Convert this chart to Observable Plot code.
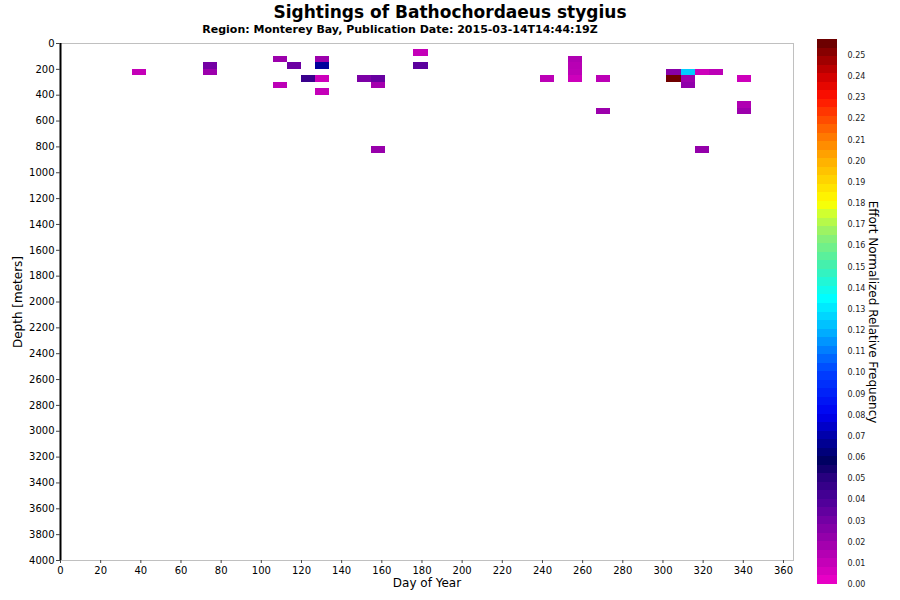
<!DOCTYPE html>
<html>
<head>
<meta charset="utf-8">
<script src="https://cdn.jsdelivr.net/npm/d3@7"></script>
<script src="https://cdn.jsdelivr.net/npm/@observablehq/plot@0.6"></script>
<style>
  body { margin: 0; background: #fff; }
  #wrap { position: relative; width: 900px; height: 600px; font-family: "DejaVu Sans", sans-serif; color: #000; }
  #title { position: absolute; left: 0; top: 2px; width: 900px; text-align: center; font-weight: bold; font-size: 17px; line-height: 20px; }
  #sub { position: absolute; left: 0; top: 23px; width: 800px; text-align: center; font-weight: bold; font-size: 11px; line-height: 13px; }
  #chart { position: absolute; left: 0; top: 36px; }
  #bar { position: absolute; left: 800px; top: 36px; }
</style>
</head>
<body>
<div id="wrap">
  <div id="title">Sightings of Bathochordaeus stygius</div>
  <div id="sub">Region: Monterey Bay, Publication Date: 2015-03-14T14:44:19Z</div>
  <div id="chart"></div>
  <div id="bar"></div>
</div>
<script>
// Week-start day of year (7-day bins), top depth of 50 m bin, effort normalized relative frequency
const weekStart = [36, 71, 71, 106, 113, 106, 120, 127, 127, 127, 127, 148, 155, 155, 155, 176, 176, 239, 253, 253, 253, 253, 267, 267, 302, 302, 309, 309, 309, 316, 323, 337, 337, 337, 316];
const depthTop  = [200, 150, 200, 100, 150, 300, 250, 100, 150, 250, 350, 250, 250, 300, 800, 50, 150, 250, 100, 150, 200, 250, 250, 500, 200, 250, 200, 250, 300, 200, 200, 250, 450, 500, 800];
const freq      = [0.010, 0.030, 0.020, 0.020, 0.032, 0.012, 0.045, 0.020, 0.068, 0.008, 0.010, 0.028, 0.033, 0.018, 0.021, 0.010, 0.036, 0.012, 0.015, 0.013, 0.012, 0.008, 0.012, 0.020, 0.025, 0.255, 0.125, 0.020, 0.023, 0.008, 0.012, 0.008, 0.015, 0.020, 0.022];
const binDays = 7;
const binDepth = 50;

const xTicks = [0, 20, 40, 60, 80, 100, 120, 140, 160, 180, 200, 220, 240, 260, 280, 300, 320, 340, 360];
const yTicks = [0, 200, 400, 600, 800, 1000, 1200, 1400, 1600, 1800, 2000, 2200, 2400, 2600, 2800, 3000, 3200, 3400, 3600, 3800, 4000];
const cbTicks = [0.00, 0.01, 0.02, 0.03, 0.04, 0.05, 0.06, 0.07, 0.08, 0.09, 0.10, 0.11, 0.12, 0.13, 0.14, 0.15, 0.16, 0.17, 0.18, 0.19, 0.20, 0.21, 0.22, 0.23, 0.24, 0.25];

// Colour map stops
const colorStops  = [0, 0.01, 0.02, 0.03, 0.04, 0.05, 0.058, 0.07, 0.08, 0.10, 0.12, 0.135, 0.15, 0.165, 0.175, 0.18, 0.20, 0.21, 0.23, 0.24, 0.25, 0.2575];
const colorValues = ["#f000c8", "#c400b8", "#9c00ac", "#7400a4", "#4a0098", "#2a0080", "#000060", "#0000a8", "#0000f0", "#0040ff", "#00b4ff", "#00ffff", "#40f0b0", "#90f070", "#d0ff30", "#ffff00", "#ffb000", "#ff8000", "#ff1000", "#d00000", "#900000", "#600000"];
const colorMax = 0.2575;

const cells = weekStart.map((d, i) => ({x1: d, x2: d + binDays, y1: depthTop[i], y2: depthTop[i] + binDepth, v: freq[i]}));
const colorScale = {type: "linear", domain: colorStops, range: colorValues, clamp: true};

const chart = Plot.plot({
  width: 800,
  height: 564,
  marginTop: 7,
  marginBottom: 40,
  marginLeft: 60,
  marginRight: 7,
  style: {fontFamily: "DejaVu Sans, sans-serif", fontSize: "10px", color: "#000", background: "transparent", overflow: "visible"},
  x: {domain: [0, 365]},
  y: {domain: [0, 4000], reverse: true},
  color: colorScale,
  marks: [
    Plot.rect(cells, {x1: "x1", x2: "x2", y1: "y1", y2: "y2", fill: "v", inset: 0, shapeRendering: "crispEdges"}),
    Plot.frame({stroke: "#c0c0c0"}),
    Plot.ruleX([0], {stroke: "#000", strokeWidth: 2}),
    Plot.axisY({ticks: yTicks, tickSize: 4, tickPadding: 2, label: null, tickFormat: d => String(d), stroke: "#444"}),
    Plot.axisX({ticks: xTicks, tickSize: 3, tickPadding: 3, label: null, tickFormat: d => String(d), stroke: "#444"}),
    Plot.text(["Depth [meters]"], {frameAnchor: "left", textAnchor: "middle", rotate: -90, dx: -42, fontSize: 12}),
    Plot.text(["Day of Year"], {frameAnchor: "bottom", textAnchor: "middle", dy: 26, fontSize: 12})
  ]
});
document.getElementById("chart").appendChild(chart);

// Colour bar (stepped, 64 bands)
const nBands = 64;
const bands = d3.range(nBands).map(i => ({y1: colorMax * i / nBands, y2: colorMax * (i + 1) / nBands, v: colorMax * (i + 0.5) / nBands}));
const bar = Plot.plot({
  width: 100,
  height: 564,
  marginTop: 3,
  marginBottom: 16,
  marginLeft: 17,
  marginRight: 63,
  style: {fontFamily: "DejaVu Sans, sans-serif", fontSize: "8px", color: "#222", background: "transparent", overflow: "visible"},
  x: {domain: [0, 1], axis: null},
  y: {domain: [0, colorMax]},
  color: colorScale,
  marks: [
    Plot.rect(bands, {x1: 0, x2: 1, y1: "y1", y2: "y2", fill: "v", inset: 0, shapeRendering: "crispEdges"}),
    Plot.axisY({anchor: "right", ticks: cbTicks, tickSize: 0, tickPadding: 10, tickFormat: d3.format(".2f"), label: null, textAnchor: "start"}),
    Plot.text(["Effort Normalized Relative Frequency"], {frameAnchor: "right", textAnchor: "middle", rotate: 90, dx: 35, fontSize: 12, fill: "#000"})
  ]
});
document.getElementById("bar").appendChild(bar);
</script>
</body>
</html>
